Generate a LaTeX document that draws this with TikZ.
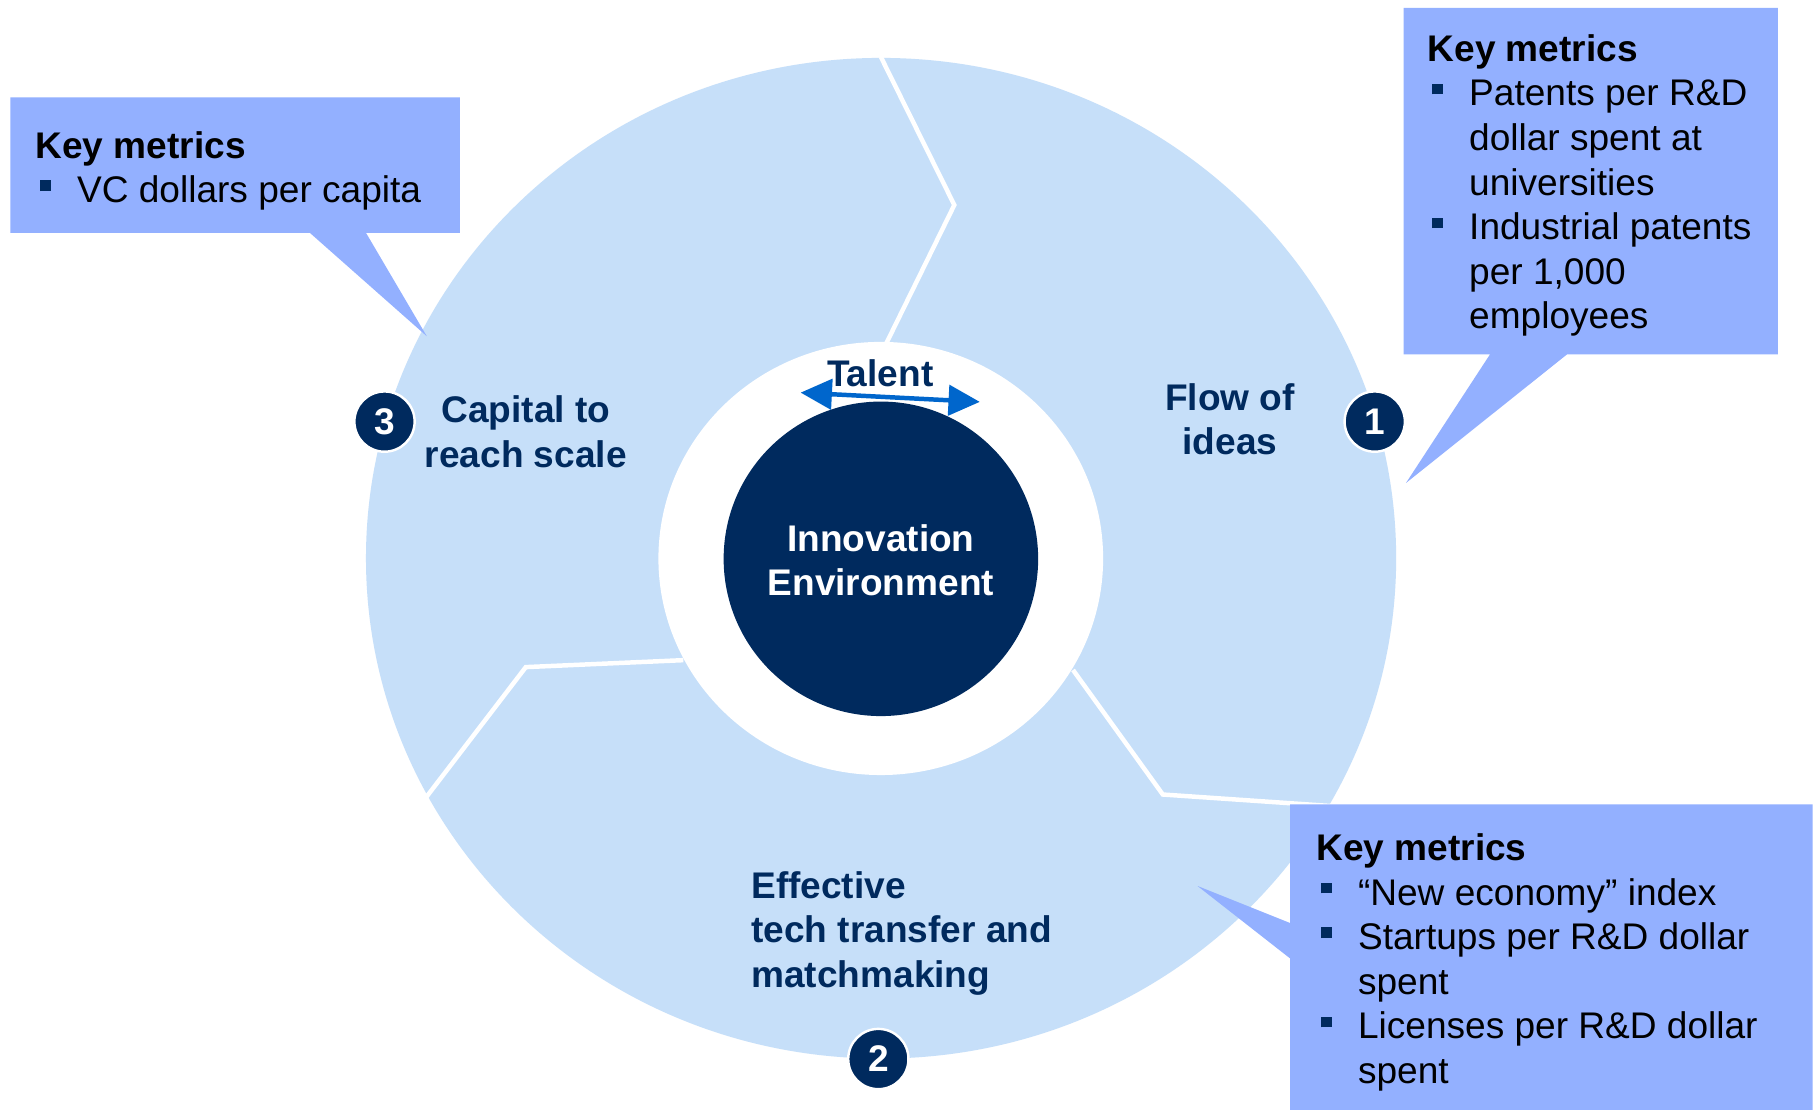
\documentclass[tikz,border=0pt]{standalone}
\usepackage{fontspec}
\setmainfont{Liberation Sans}
\usetikzlibrary{arrows.meta}
\definecolor{ringc}{HTML}{C6DFF9}
\definecolor{boxc}{HTML}{93B0FF}
\definecolor{navy}{HTML}{002A5E}
\definecolor{talentblue}{HTML}{0066CC}
\newcommand\kbul{\hspace*{1.1pt}\textcolor{navy}{\rule[2.85pt]{2.6pt}{2.6pt}}\hspace*{6.5pt}}
\newcommand\kind{\hspace*{10.2pt}}
\begin{document}
\begin{tikzpicture}[x=0.01cm,y=-0.01cm,
  basefont/.style={font=\fontsize{9.1pt}{10.95pt}\selectfont},
  keytext/.style={basefont, align=left, inner sep=0pt, text=black, anchor=base west},
  lbl/.style={font=\fontsize{9.1pt}{10.95pt}\selectfont\bfseries, inner sep=0pt, text=navy},
  numc/.style={circle, fill=navy, draw=white, line width=0.6pt, minimum size=0.52cm, inner sep=0pt, text=white, font=\fontsize{9.1pt}{10.9pt}\selectfont\bfseries},
  divider/.style={white, line width=1.1pt, line join=miter},
  callout/.style={fill=boxc, draw=none},
  talentarrow/.style={talentblue, line width=1.1pt, {Triangle[length=0.27cm,width=0.26cm]}-{Triangle[length=0.27cm,width=0.26cm]}}
]
\useasboundingbox (0,0) rectangle (1568,957.6);
\fill[white] (0,0) rectangle (1568,957.6);

% ring
\fill[ringc] (760.75,482) ellipse [x radius=444.75, y radius=432];
\fill[white] (760.5,482.2) ellipse [x radius=192, y radius=187];

% dividing lines
\coordinate (d1a) at (760.5,49);
\coordinate (d1b) at (824,177);
\coordinate (d1c) at (765,297);
\draw[divider] (d1a) -- (d1b) -- (d1c);
\coordinate (d2a) at (926.5,578.5);
\coordinate (d2b) at (1004,686);
\coordinate (d2c) at (1150,696);
\draw[divider] (d2a) -- (d2b) -- (d2c);
\coordinate (d3a) at (590,570);
\coordinate (d3b) at (454,576);
\coordinate (d3c) at (367.5,689);
\draw[divider] (d3a) -- (d3b) -- (d3c);

% centre
\node[circle, fill=navy, minimum size=2.714cm, inner sep=0pt] (core) at (760.6,482.5) {};
\node[lbl, text=white, align=center, anchor=base] (innov) at (760.6,514.3) {Innovation\\Environment};

% talent
\coordinate (tl) at (691.3,339);
\coordinate (tr) at (846,347);
\draw[talentarrow] (tl) -- (tr);
\node[lbl, anchor=base] (talent) at (760,333.9) {Talent};

% segment labels
\node[lbl, align=center, anchor=base] (cap) at (454,403.4) {Capital to\\reach scale};
\node[lbl, align=center, anchor=base] (flow) at (1062,392.8) {Flow of\\ideas};
\node[lbl, align=left, anchor=base west] (eff) at (648,852.7) {Effective\\tech transfer and\\matchmaking};

% numbers
\node[numc] (n1) at (1187,364) {1};
\node[numc] (n2) at (758.4,914.4) {2};
\node[numc] (n3) at (332,364) {3};

% callout boxes
\fill[callout] (9,84) -- (397,84) -- (397,201) -- (316,201) -- (368.5,290.3) -- (267.5,201) -- (9,201) -- cycle;
\fill[callout] (1212,6.7) -- (1535,6.7) -- (1535,306) -- (1353,306) -- (1214,417) -- (1286.5,306) -- (1212,306) -- cycle;
\fill[callout] (1114,694.5) -- (1565,694.5) -- (1565,960) -- (1114,960) -- (1114,827.6) -- (1034,765) -- (1114,797) -- cycle;

\node[keytext] (k3) at (30,175) {\textbf{Key metrics}\\\kbul VC dollars per capita};
\node[keytext] (k1) at (1232,284) {\textbf{Key metrics}\\\kbul Patents per R\&D\\\kind dollar spent at\\\kind universities\\\kbul Industrial patents\\\kind per 1,000\\\kind employees};
\node[keytext] (k2) at (1136,935.5) {\textbf{Key metrics}\\\kbul “New economy” index\\\kbul Startups per R\&D dollar\\\kind spent\\\kbul Licenses per R\&D dollar\\\kind spent};
\end{tikzpicture}
\end{document}
